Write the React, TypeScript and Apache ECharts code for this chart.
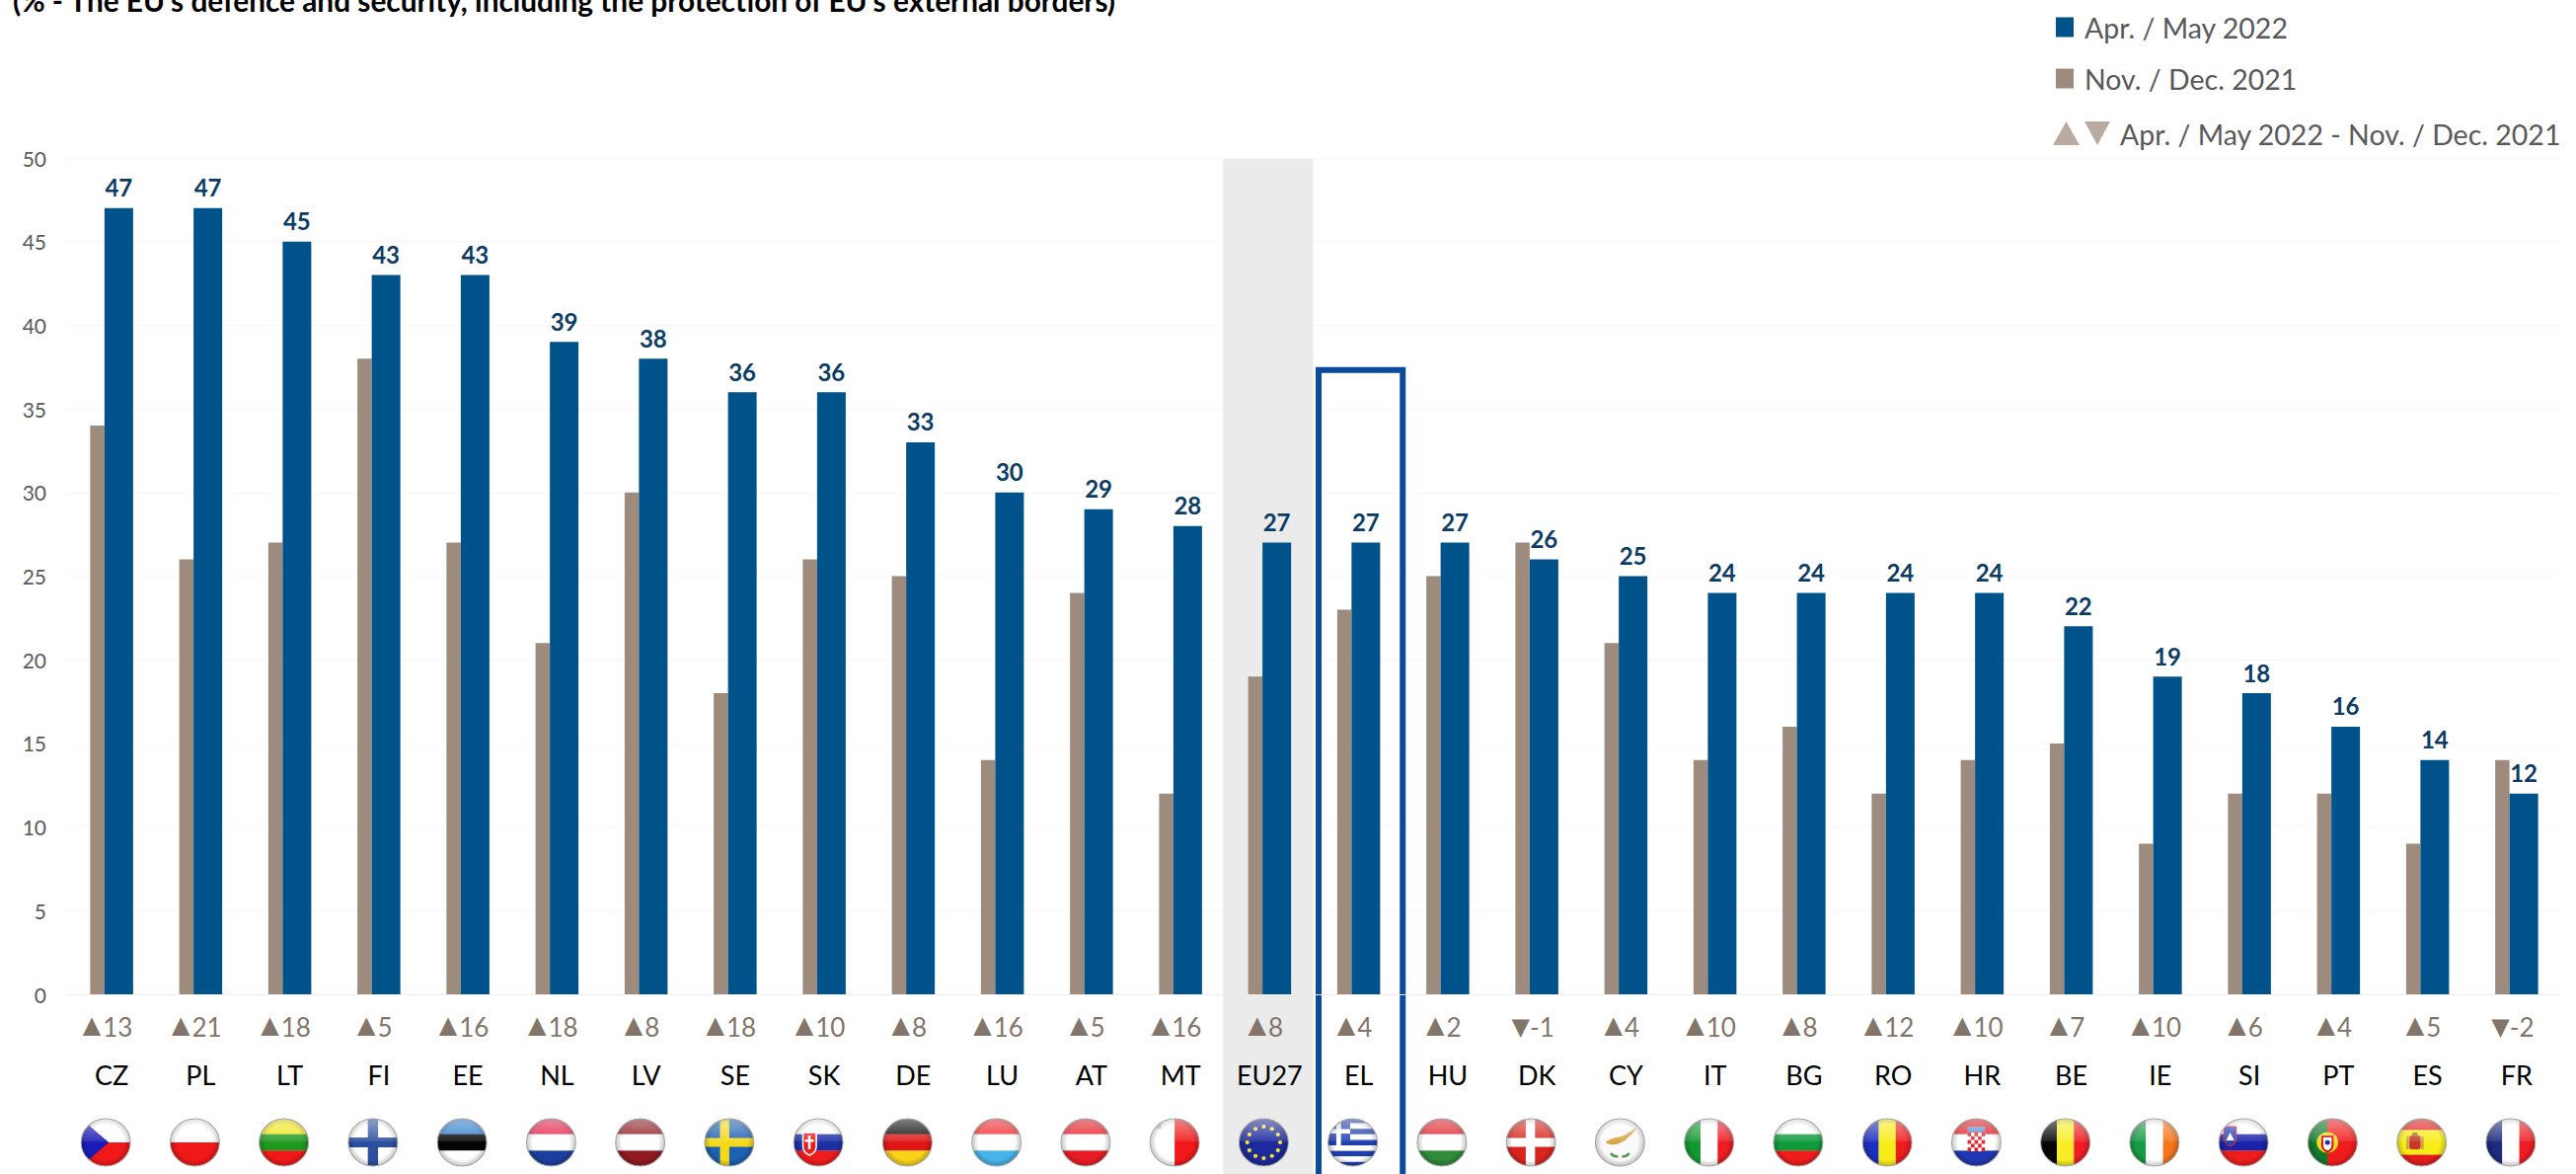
import React, { useEffect, useRef } from "react";
import * as echarts from "echarts";

const titleText = "(% - The EU's defence and security, including the protection of EU's external borders)";
const currentName = "Apr. / May 2022";
const previousName = "Nov. / Dec. 2021";
const changeName = "Apr. / May 2022 - Nov. / Dec. 2021";
const categories = ["CZ","PL","LT","FI","EE","NL","LV","SE","SK","DE","LU","AT","MT","EU27","EL","HU","DK","CY","IT","BG","RO","HR","BE","IE","SI","PT","ES","FR"];
const currentValues = [47,47,45,43,43,39,38,36,36,33,30,29,28,27,27,27,26,25,24,24,24,24,22,19,18,16,14,12];
const previousValues = [34,26,27,38,27,21,30,18,26,25,14,24,12,19,23,25,27,21,14,16,12,14,15,9,12,12,9,14];
const changes = [13,21,18,5,16,18,8,18,10,8,16,5,16,8,4,2,-1,4,10,8,12,10,7,10,6,4,5,-2];
const yTicks = { min: 0, max: 50, interval: 5 };
const shadedCategory = "EU27";
const boxedCategory = "EL";
const boxTopValue = 37.5;

const BLUE = "#00538a";
const BROWN = "#9d8b7e";
const LABEL_BLUE = "#0c3c64";
const FONT = "Lato";

const hs = (...c: string[]) => c.map((col, i) => `<rect x="0" y="${(100 / c.length) * i}" width="100" height="${100 / c.length + 0.5}" fill="${col}"/>`).join("");
const vs = (...c: string[]) => c.map((col, i) => `<rect y="0" x="${(100 / c.length) * i}" height="100" width="${100 / c.length + 0.5}" fill="${col}"/>`).join("");
const euStars = () => {
  let s = "";
  for (let i = 0; i < 12; i++) {
    const a = (i * Math.PI) / 6;
    s += `<circle cx="${50 + 32 * Math.cos(a)}" cy="${50 + 32 * Math.sin(a)}" r="4" fill="#ffe81a"/>`;
  }
  return s;
};
const hrChecks = () => {
  let s = `<rect x="33" y="30" width="34" height="38" fill="#fff"/>`;
  for (let r = 0; r < 5; r++) for (let c = 0; c < 5; c++) if ((r + c) % 2 === 0) s += `<rect x="${33 + c * 6.8}" y="${30 + r * 7.6}" width="6.8" height="7.6" fill="#e0202a"/>`;
  return s + `<rect x="33" y="18" width="34" height="11" fill="#5b8fd0"/>`;
};
const greek = () => {
  let s = "";
  for (let i = 0; i < 9; i++) s += `<rect x="0" y="${i * 11.2}" width="100" height="11.3" fill="${i % 2 ? "#fff" : "#1f3fae"}"/>`;
  return s + `<rect x="0" y="0" width="45" height="56" fill="#1f3fae"/><rect x="18" y="0" width="9" height="56" fill="#fff"/><rect x="0" y="23" width="45" height="9" fill="#fff"/>`;
};
const flags: Record<string, string> = {
  CZ: hs("#ffffff", "#f01818") + `<polygon points="0,0 56,50 0,100" fill="#1a1ab8"/>`,
  PL: hs("#ffffff", "#f01818"),
  LT: hs("#f2e51a", "#1f9a1f", "#f01818"),
  FI: `<rect width="100" height="100" fill="#fff"/><rect x="40" width="20" height="100" fill="#2a4f9e"/><rect y="40" width="100" height="20" fill="#2a4f9e"/>`,
  EE: hs("#2f7fd0", "#050505", "#ffffff"),
  NL: hs("#e5204a", "#ffffff", "#1c3f9e"),
  LV: hs("#8f1a20", "#ffffff", "#8f1a20"),
  SE: `<rect width="100" height="100" fill="#1b62b4"/><rect x="32" width="18" height="100" fill="#f6d816"/><rect y="41" width="100" height="18" fill="#f6d816"/>`,
  SK: hs("#ffffff", "#1d2fa5", "#ef1c1c") + `<path d="M20 30h26v28q0 12-13 18q-13-6-13-18z" fill="#e81c1c" stroke="#fff" stroke-width="3"/><rect x="30" y="36" width="5" height="28" fill="#fff"/><rect x="24" y="44" width="17" height="5" fill="#fff"/>`,
  DE: hs("#0a0a0a", "#e01515", "#f8d31a"),
  LU: hs("#f0282c", "#ffffff", "#46b4ea"),
  AT: hs("#e81c24", "#ffffff", "#e81c24"),
  MT: vs("#ffffff", "#f01818") + `<rect x="12" y="10" width="12" height="12" fill="#c8c8c8"/>`,
  EU27: `<rect width="100" height="100" fill="#1c2a9e"/>` + euStars(),
  EL: greek(),
  HU: hs("#e2242a", "#ffffff", "#2f8a3c"),
  DK: `<rect width="100" height="100" fill="#d8261e"/><rect x="40" width="18" height="100" fill="#fff"/><rect y="41" width="100" height="18" fill="#fff"/>`,
  CY: `<rect width="100" height="100" fill="#fafafa"/><path d="M22 50q8-8 20-10q14-2 22-8q10-6 18-12q-4 10-14 18q-6 8-16 12q-10 6-20 4q-8-1-10-4z" fill="#d9a23f"/><path d="M32 72q6 8 14 6M68 72q-6 8-14 6" stroke="#4f9a4f" stroke-width="5" fill="none"/>`,
  IT: vs("#109a30", "#ffffff", "#ef1c24"),
  BG: hs("#ffffff", "#0f9a3c", "#ef1c1c"),
  RO: vs("#1c2fc0", "#f8ec16", "#ef1c1c"),
  HR: hs("#e81c24", "#ffffff", "#1f37b0") + hrChecks(),
  BE: vs("#050505", "#f8ec26", "#ef1c24"),
  IE: vs("#179a45", "#ffffff", "#f5761a"),
  SI: hs("#ffffff", "#1a22a8", "#ef1c1c") + `<path d="M12 18h24v24q0 10-12 16q-12-6-12-16z" fill="#2440b8" stroke="#e81c24" stroke-width="2"/><polygon points="16,46 24,30 32,46" fill="#fff"/>`,
  PT: `<rect width="100" height="100" fill="#ef1c1c"/><rect width="40" height="100" fill="#127a2c"/><circle cx="40" cy="50" r="21" fill="#f5d820"/><path d="M30 38h20v18q0 9-10 13q-10-4-10-13z" fill="#fff" stroke="#d01818" stroke-width="4"/><circle cx="40" cy="50" r="5" fill="#1c2fa8"/>`,
  ES: hs("#e31c1c", "#f8ec16", "#f8ec16", "#e31c1c") + `<rect x="26" y="36" width="22" height="28" rx="5" fill="#c8352a"/><rect x="32" y="30" width="10" height="8" fill="#a8682a"/><rect x="20" y="38" width="5" height="26" fill="#c9a24a"/><rect x="49" y="38" width="5" height="26" fill="#c9a24a"/>`,
  FR: vs("#1c2a80", "#ffffff", "#ef1c24"),
};
const flagImage = (code: string) => {
  const svg = `<svg xmlns="http://www.w3.org/2000/svg" viewBox="0 0 100 100" preserveAspectRatio="none"><defs><clipPath id="c"><circle cx="50" cy="50" r="48"/></clipPath><linearGradient id="g" x1="0" y1="0" x2="0" y2="1"><stop offset="0" stop-color="#fff" stop-opacity=".5"/><stop offset=".46" stop-color="#fff" stop-opacity=".12"/><stop offset=".5" stop-color="#fff" stop-opacity="0"/><stop offset="1" stop-color="#fff" stop-opacity="0"/></linearGradient><radialGradient id="r" cx=".5" cy=".5" r=".5"><stop offset=".72" stop-color="#000" stop-opacity="0"/><stop offset="1" stop-color="#000" stop-opacity=".28"/></radialGradient></defs><g clip-path="url(#c)">${flags[code]}<rect width="100" height="100" fill="url(#r)"/><rect width="100" height="100" fill="url(#g)"/></g><circle cx="50" cy="50" r="48" fill="none" stroke="#a8a8a8" stroke-width="2"/></svg>`;
  return "data:image/svg+xml;charset=utf-8," + encodeURIComponent(svg);
};

export default function App() {
  const ref = useRef<HTMLDivElement>(null);
  useEffect(() => {
    document.body.style.margin = "0";
    const chart = echarts.init(ref.current!, undefined, { renderer: "svg" });
    const shadedIdx = categories.indexOf(shadedCategory);
    const boxedIdx = categories.indexOf(boxedCategory);
    const legendText = { fontFamily: FONT, fontSize: 28.5, color: "#595959" };
    chart.setOption({
      animation: false,
      backgroundColor: "#ffffff",
      title: {
        text: titleText,
        left: 13,
        top: -15,
        padding: 0,
        textStyle: { fontFamily: FONT, fontWeight: "bold", fontSize: 29.8, color: "#000000" },
      },
      legend: {
        data: [currentName, previousName],
        orient: "vertical",
        left: 2083,
        top: 13,
        padding: 0,
        itemWidth: 18,
        itemHeight: 20,
        itemGap: 23,
        selectedMode: false,
        icon: "rect",
        textStyle: { ...legendText, padding: [0, 0, 0, 6] },
      },
      graphic: [
        { type: "polygon", shape: { points: [[2080, 147], [2107, 147], [2093.5, 123]] }, style: { fill: "#b9aba2" } },
        { type: "polygon", shape: { points: [[2112, 123], [2138, 123], [2125, 147]] }, style: { fill: "#b9aba2" } },
        { type: "text", x: 2148, y: 136, style: { text: changeName, fontFamily: FONT, fontSize: 28.5, fill: "#595959", verticalAlign: "middle" } },
      ],
      grid: { left: 68, right: 15, top: 160, bottom: 182 },
      xAxis: {
        type: "category",
        data: categories,
        z: 5,
        axisTick: { show: false },
        axisLine: { show: true, lineStyle: { color: "#ececec", width: 1 } },
        axisLabel: {
          interval: 0,
          margin: 9,
          fontFamily: FONT,
          formatter: (v: string, i: number) => {
            const d = changes[i];
            return `{${d < 0 ? "down" : "up"}|${d < 0 ? "▼" : "▲"}}{num|${d}}\n{code|${v}}`;
          },
          rich: {
            up: { fontFamily: "DejaVu Sans", fontSize: 24, color: "#84756a", lineHeight: 48, padding: [0, 2, 5, 0] },
            down: { fontFamily: "DejaVu Sans", fontSize: 24, color: "#84756a", lineHeight: 48 },
            num: { fontFamily: FONT, fontSize: 26, color: "#84756a", lineHeight: 48, padding: [0, 8, 0, 0] },
            code: { fontFamily: FONT, fontSize: 27, color: "#000000", lineHeight: 48 },
          },
        },
      },
      yAxis: {
        type: "value",
        ...yTicks,
        axisLine: { show: false },
        axisTick: { show: false },
        axisLabel: { fontFamily: FONT, fontSize: 21, color: "#595959", margin: 21 },
        splitLine: { lineStyle: { color: "#f7f7f7", width: 1 } },
      },
      series: [
        {
          type: "custom",
          silent: true,
          z: 1,
          clip: false,
          data: [[shadedIdx, 0]],
          encode: { x: 0, y: 1 },
          renderItem: (_p: any, api: any) => {
            const c = api.coord([api.value(0), 0]);
            const w = api.size([1, 0])[0];
            return { type: "rect", shape: { x: c[0] - w / 2 - 2, y: 161, width: w + 1, height: 1040 }, style: { fill: "#ebebeb" } };
          },
        },
        {
          type: "custom",
          silent: true,
          z: 3,
          clip: false,
          data: [[boxedIdx, boxTopValue]],
          encode: { x: 0, y: 1 },
          renderItem: (_p: any, api: any) => {
            const c = api.coord([api.value(0), api.value(1)]);
            const w = api.size([1, 0])[0];
            return { type: "rect", shape: { x: c[0] - w / 2 + 4.5, y: c[1] + 3, width: w - 5, height: 900 }, style: { fill: "none", stroke: "#0a4b9c", lineWidth: 6 } };
          },
        },
        {
          type: "custom",
          silent: true,
          z: 3,
          clip: false,
          data: categories.map((c, i) => [i, 0]),
          encode: { x: 0, y: 1 },
          renderItem: (_p: any, api: any) => {
            const i = api.value(0);
            const c = api.coord([i, 0]);
            return {
              type: "image",
              style: { image: flagImage(categories[i]), x: c[0] - 6 - 26, y: 1132, width: 52, height: 50 },
            };
          },
        },
        {
          name: previousName,
          type: "bar",
          data: previousValues,
          barWidth: 14.5,
          barGap: 0,
          itemStyle: { color: BROWN },
        },
        {
          name: currentName,
          type: "bar",
          data: currentValues,
          barWidth: 29,
          barGap: 0,
          itemStyle: { color: BLUE },
          label: {
            show: true,
            position: "top",
            distance: 9,
            fontFamily: FONT,
            fontWeight: "bold",
            fontSize: 24,
            color: LABEL_BLUE,
          },
        },
      ],
    });
    return () => chart.dispose();
  }, []);
  return <div ref={ref} style={{ width: 2610, height: 1189, overflow: "hidden" }} />;
}
